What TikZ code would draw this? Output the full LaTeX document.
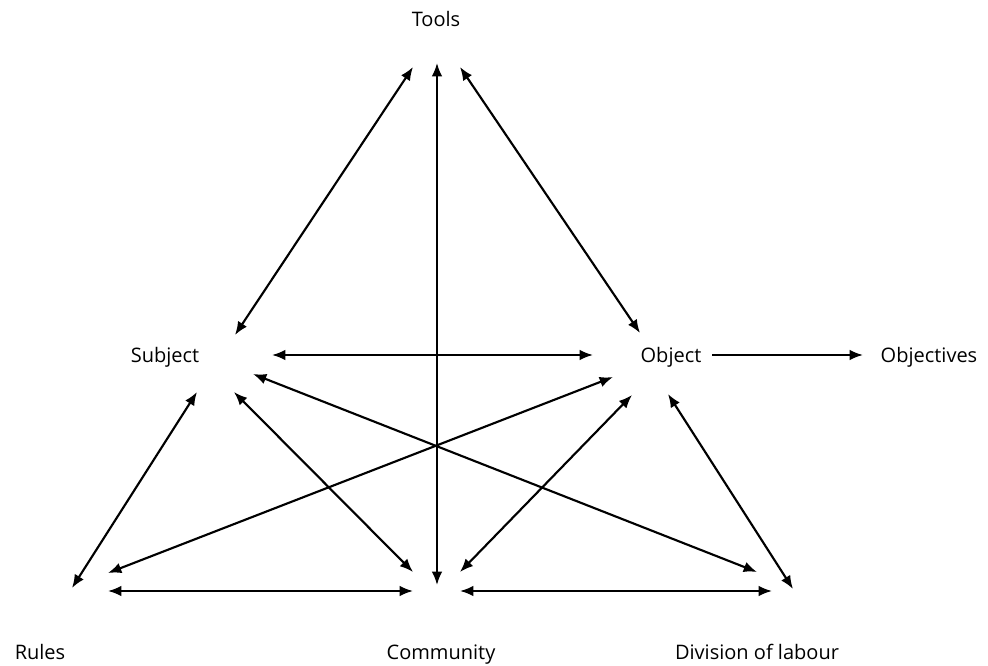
\documentclass[tikz,border=0pt]{standalone}
\usepackage{fontspec}
\setmainfont{Open Sans}
\usetikzlibrary{arrows, arrows.meta}

\begin{document}
\begin{tikzpicture}[x=0.75pt, y=-0.75pt,
    >={Latex[length=10pt, width=8pt]},
    label/.style={anchor=base, inner sep=0pt, font=\fontsize{15}{18}\selectfont},
    link/.style={<->, line width=1.6pt},
    oneway/.style={->, line width=1.6pt}]
    \useasboundingbox (0,0) rectangle (988,666);

    % labels
    \node[label] (tools) at (436,27) {Tools};
    \node[label] (subject) at (165,363) {Subject};
    \node[label] (object) at (671,363) {Object};
    \node[label] (objectives) at (929,363) {Objectives};
    \node[label] (rules) at (40,659) {Rules};
    \node[label] (community) at (441,659) {Community};
    \node[label] (division) at (757,659) {Division of labour};

    % arrow ends round each label
    \coordinate (tools-l) at (413,67);
    \coordinate (tools-c) at (437,63);
    \coordinate (tools-r) at (460,67);
    \coordinate (sub-t) at (235,335);
    \coordinate (sub-r) at (272,355);
    \coordinate (sub-d) at (253,374);
    \coordinate (sub-bl) at (197,392);
    \coordinate (sub-br) at (234,392);
    \coordinate (obj-t) at (640,333);
    \coordinate (obj-l) at (593,355);
    \coordinate (obj-d) at (613,377);
    \coordinate (obj-bl) at (632,395);
    \coordinate (obj-br) at (668,394);
    \coordinate (obj-r) at (712,355);
    \coordinate (aim-l) at (863,355);
    \coordinate (rul-t) at (72,588);
    \coordinate (rul-d) at (108,573);
    \coordinate (rul-r) at (108,591);
    \coordinate (com-tl) at (413,572);
    \coordinate (com-t) at (437,585);
    \coordinate (com-tr) at (460,572);
    \coordinate (com-l) at (413,591);
    \coordinate (com-r) at (460,591);
    \coordinate (div-d) at (757,572);
    \coordinate (div-t) at (793,589);
    \coordinate (div-l) at (772,591);

    \draw[link] (tools-l) -- (sub-t);
    \draw[link] (tools-r) -- (obj-t);
    \draw[link] (tools-c) -- (com-t);
    \draw[link] (sub-r) -- (obj-l);
    \draw[oneway] (obj-r) -- (aim-l);
    \draw[link] (sub-bl) -- (rul-t);
    \draw[link] (sub-br) -- (com-tl);
    \draw[link] (sub-d) -- (div-d);
    \draw[link] (obj-d) -- (rul-d);
    \draw[link] (obj-bl) -- (com-tr);
    \draw[link] (obj-br) -- (div-t);
    \draw[link] (rul-r) -- (com-l);
    \draw[link] (com-r) -- (div-l);
\end{tikzpicture}
\end{document}
